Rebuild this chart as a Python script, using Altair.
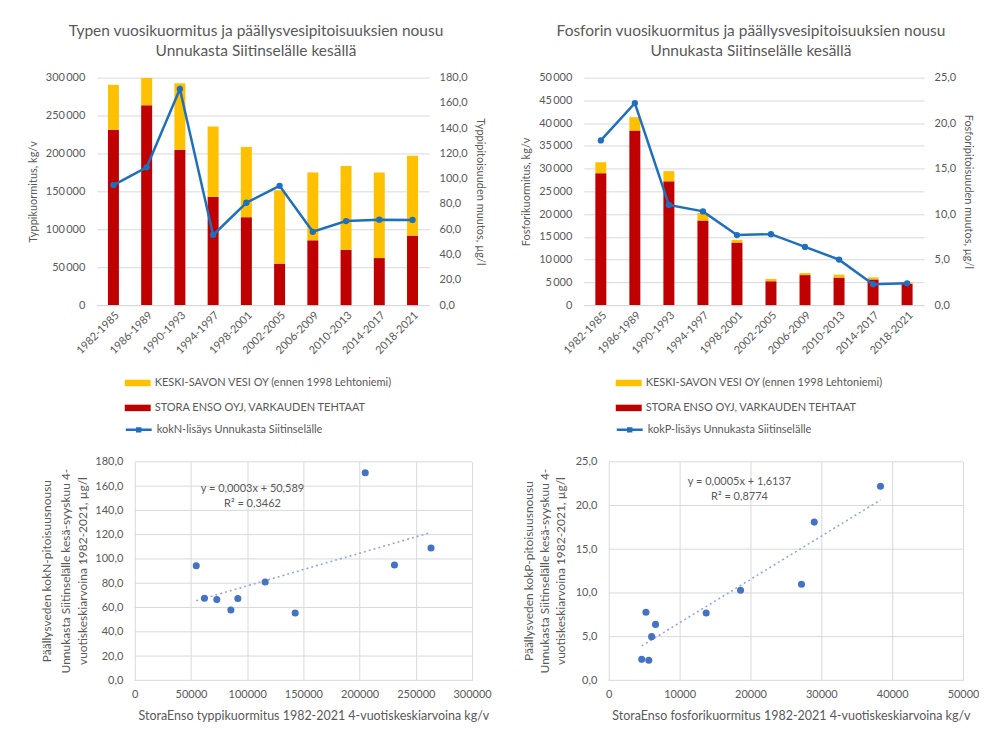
import altair as alt
import pandas as pd

# ---------------- data ----------------
periods = ["1982-1985", "1986-1989", "1990-1993", "1994-1997", "1998-2001",
           "2002-2005", "2006-2009", "2010-2013", "2014-2017", "2018-2021"]

# Nitrogen (kg/v) and concentration rise (µg/l)
n_stora = [231000, 263500, 205000, 142700, 116000, 54700, 85500, 73000, 62000, 91700]
n_keski = [59500, 36000, 87500, 92800, 92500, 96800, 89500, 110500, 113000, 105300]
n_rise = [95.0, 109.0, 171.0, 55.5, 81.0, 94.4, 58.0, 66.5, 67.6, 67.4]

# Phosphorus (kg/v) and concentration rise (µg/l)
p_stora = [29000, 38350, 27200, 18600, 13750, 5250, 6600, 6050, 5650, 4650]
p_keski = [2400, 2950, 2250, 1650, 600, 500, 450, 650, 450, 350]
p_rise = [18.1, 22.2, 11.0, 10.3, 7.7, 7.8, 6.4, 5.0, 2.3, 2.4]

lab_keski = "KESKI-SAVON VESI OY (ennen 1998 Lehtoniemi)"
lab_stora = "STORA ENSO OYJ, VARKAUDEN TEHTAAT"
lab_n_line = "kokN-lisäys Unnukasta Siitinselälle"
lab_p_line = "kokP-lisäys Unnukasta Siitinselälle"

n_title = ["Typen vuosikuormitus ja päällysvesipitoisuuksien nousu",
           "Unnukasta Siitinselälle kesällä"]
p_title = ["Fosforin vuosikuormitus ja päällysvesipitoisuuksien nousu",
           "Unnukasta Siitinselälle kesällä"]
n_left_title = "Typpikuormitus, kg/v"
n_right_title = "Typpipitoisuuden muutos, µg/l"
p_left_title = "Fosforikuormitus, kg/v"
p_right_title = "Fosforipitoisuuden muutos, µg/l"

n_sc_ytitle = ["Päällysveden  kokN-pitoisuusnousu",
               "Unnukasta Siitinselälle kesä-syyskuu 4-",
               "vuotiskeskiarvoina 1982-2021, µg/l"]
p_sc_ytitle = ["Päällysveden kokP-pitoisuusnousu",
               "Unnukasta Siitinselälle kesä-syyskuu 4-",
               "vuotiskeskiarvoina 1982-2021, µg/l"]
n_sc_xtitle = "StoraEnso typpikuormitus 1982-2021 4-vuotiskeskiarvoina kg/v"
p_sc_xtitle = "StoraEnso fosforikuormitus 1982-2021 4-vuotiskeskiarvoina kg/v"

n_eq = ["y = 0,0003x + 50,589", "R² = 0,3462"]
p_eq = ["y = 0,0005x + 1,6137", "R² = 0,8774"]

n_left_ticks = [0, 50000, 100000, 150000, 200000, 250000, 300000]
n_right_ticks = [0, 20, 40, 60, 80, 100, 120, 140, 160, 180]
p_left_ticks = [0, 5000, 10000, 15000, 20000, 25000, 30000, 35000, 40000, 45000, 50000]
p_right_ticks = [0, 5, 10, 15, 20, 25]
n_sc_xticks = [0, 50000, 100000, 150000, 200000, 250000, 300000]
n_sc_yticks = [0, 20, 40, 60, 80, 100, 120, 140, 160, 180]
p_sc_xticks = [0, 10000, 20000, 30000, 40000, 50000]
p_sc_yticks = [0, 5, 10, 15, 20, 25]

# ---------------- styles ----------------
GREY = "#595959"
GRID = "#D9D9D9"
FONT = "Lato"
BLUE = "#1F6FBF"
THOUS = "replace(format(datum.value, ','), ',', '\u2009')"
PLAIN = "format(datum.value, 'd')"
DEC1 = "replace(format(datum.value, '.1f'), '.', ',')"
RECT = "M-1.5,-0.375H1.5V0.375H-1.5Z"
LINE_SYM = "M-1.5,0H1.5M-0.17,-0.17H0.17V0.17H-0.17Z"


def spacer(x_px, y_px):
    # invisible text that gives the panels of one column the same left extent
    sdf = pd.DataFrame({"t": ["."]})
    return alt.Chart(sdf).mark_text(align="left", baseline="middle", opacity=0,
                                    fontSize=10).encode(
        x=alt.value(x_px), y=alt.value(y_px), text="t:N")


def combo(stora, keski, rise, line_label, title, ltitle, rtitle, lticks, rticks,
          width, height, legx, title_dx, spacer_x):
    n = len(periods)
    bar_df = pd.DataFrame({
        "period": periods + periods,
        "series": [lab_stora] * n + [lab_keski] * n,
        "value": stora + keski,
        "stack": [0] * n + [1] * n,
    })
    line_df = pd.DataFrame({"period": periods, "rise": rise, "series": [line_label] * n})

    x = alt.X("period:N", sort=periods,
              scale=alt.Scale(paddingInner=0, paddingOuter=0),
              axis=alt.Axis(title=None, labelAngle=-45, labelFontSize=11, labelPadding=4,
                            ticks=False, domainColor=GRID, grid=False))
    yl = alt.Y("value:Q", stack="zero",
               scale=alt.Scale(domain=[0, lticks[-1]], nice=False),
               axis=alt.Axis(title=ltitle, values=lticks, labelExpr=THOUS, grid=True,
                             gridColor=GRID, domain=False, ticks=False, labelPadding=12,
                             titlePadding=7))
    yr = alt.Y("rise:Q", scale=alt.Scale(domain=[0, rticks[-1]], nice=False),
               axis=alt.Axis(orient="right", title=rtitle, values=rticks, labelExpr=DEC1,
                             grid=False, domain=False, ticks=False, labelPadding=10,
                             titlePadding=7))
    bars = alt.Chart(bar_df).mark_bar(size=11).encode(
        x=x, y=yl,
        color=alt.Color("series:N",
                        scale=alt.Scale(domain=[lab_keski, lab_stora],
                                        range=["#FFC000", "#C00000"]),
                        legend=alt.Legend(title=None, orient="none", legendX=legx, legendY=297,
                                          symbolType=RECT, symbolSize=300, labelLimit=400,
                                          rowPadding=11, labelOffset=8, symbolStrokeWidth=0)),
        order=alt.Order("stack:Q", sort="ascending"),
    )
    line = alt.Chart(line_df).mark_line(strokeWidth=2.5).encode(
        x=x, y=yr,
        stroke=alt.Stroke("series:N", scale=alt.Scale(range=[BLUE]),
                          legend=alt.Legend(title=None, orient="none", legendX=legx,
                                            legendY=343, symbolType=LINE_SYM, symbolSize=300,
                                            symbolStrokeWidth=2.5, labelLimit=400,
                                            labelOffset=8)),
    )
    pts = alt.Chart(line_df).mark_circle(size=40, opacity=1, color=BLUE).encode(
        x=x,
        y=alt.Y("rise:Q", scale=alt.Scale(domain=[0, rticks[-1]], nice=False), axis=None),
    )
    return alt.layer(bars, line, pts, spacer(spacer_x, height / 2)).resolve_scale(
        y="independent").properties(
        width=width, height=height,
        title=alt.TitleParams(text=title, fontSize=15.5, fontWeight="normal", color=GREY,
                              font=FONT, lineHeight=20, anchor="middle", frame="group",
                              dx=title_dx, offset=12),
    )


def scatter(xs, ys, xtitle, ytitle, xticks, yticks, eq, plot_w, height, shift, ytitle_dx,
            eqx, eqy, xtitle_dx, spacer_x):
    # the visible plot starts `shift` px right of the panel origin
    w = shift + plot_w
    df = pd.DataFrame({"x": xs, "y": ys})
    grid_df = pd.DataFrame({"tick": yticks})
    xscale = alt.Scale(domain=[0, xticks[-1]], nice=False, range=[shift, w])
    yscale = alt.Scale(domain=[0, yticks[-1]], nice=False)
    xaxis = alt.Axis(title=xtitle, titleX=shift + plot_w / 2 + xtitle_dx, values=xticks,
                     labelExpr=PLAIN, labelFlush=False, grid=True, gridColor=GRID,
                     domain=False, ticks=False, labelPadding=8, titlePadding=10,
                     titleFontSize=12.5, labelFontSize=11)
    yaxis = alt.Axis(title=None, values=yticks, labelExpr=DEC1, grid=False, domain=False,
                     ticks=False, labelPadding=12, offset=-shift, labelFontSize=11)
    xenc = alt.X("x:Q", scale=xscale, axis=xaxis)
    yenc = alt.Y("y:Q", scale=yscale, axis=yaxis)

    layers = [
        alt.Chart(grid_df).mark_rule(color=GRID, strokeWidth=1).encode(
            y=alt.Y("tick:Q", scale=yscale, axis=yaxis),
            x=alt.datum(0), x2=alt.datum(xticks[-1])),
        alt.Chart(df).transform_regression("x", "y").mark_line(
            color="#8FAADC", strokeWidth=1.6, strokeDash=[2, 3]).encode(x=xenc, y=yenc),
        alt.Chart(df).mark_circle(size=50, opacity=1, color="#4472C4").encode(x=xenc, y=yenc),
    ]
    eq_df = pd.DataFrame({"t": ["\n".join(eq)]})
    layers.append(alt.Chart(eq_df).mark_text(
        lineBreak="\n", fontSize=11, color=GREY, align="center", baseline="top",
        lineHeight=15, font=FONT).encode(x=alt.value(shift + eqx), y=alt.value(eqy),
                                         text="t:N"))
    # y-axis title: one rotated text per line
    for line_text, dx in zip(ytitle, ytitle_dx):
        ldf = pd.DataFrame({"t": [line_text]})
        layers.append(alt.Chart(ldf).mark_text(
            fontSize=12, color=GREY, align="center", baseline="middle", angle=270,
            font=FONT).encode(x=alt.value(shift + dx), y=alt.value(height / 2), text="t:N"))
    layers.append(spacer(spacer_x, height / 2))
    return alt.layer(*layers).properties(width=w, height=height)


n_combo = combo(n_stora, n_keski, n_rise, lab_n_line, n_title, n_left_title, n_right_title,
                n_left_ticks, n_right_ticks, 333, 228, 32, -7, -85)
p_combo = combo(p_stora, p_keski, p_rise, lab_p_line, p_title, p_left_title, p_right_title,
                p_left_ticks, p_right_ticks, 341, 228, 36, -3, -80)
n_sc = scatter(n_stora, n_rise, n_sc_xtitle, n_sc_ytitle, n_sc_xticks, n_sc_yticks, n_eq,
               338, 219, 38, [-88, -69, -52], 118, 21, 10, -85)
p_sc = scatter(p_stora, p_rise, p_sc_xtitle, p_sc_ytitle, p_sc_xticks, p_sc_yticks, p_eq,
               355, 219, 25, [-80, -64, -48], 131, 14, 5, -80)

chart = alt.concat(n_combo, p_combo, n_sc, p_sc, columns=2,
                   spacing={"row": 19, "column": 12}).resolve_scale(
    color="independent", stroke="independent"
).properties(
    padding={"left": 4, "top": 15, "right": 0, "bottom": 0}
).configure(font=FONT).configure_view(stroke=None).configure_axis(
    labelColor=GREY, titleColor=GREY, labelFont=FONT, titleFont=FONT,
    titleFontWeight="normal", labelFontSize=11, titleFontSize=11
).configure_legend(labelColor=GREY, labelFont=FONT, labelFontSize=11)

chart.save("out.html", embed_options={"renderer": "svg", "actions": False})
